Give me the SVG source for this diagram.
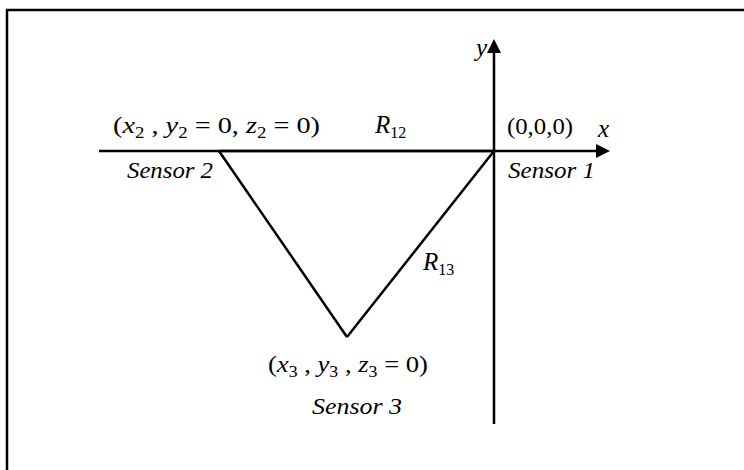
<svg xmlns="http://www.w3.org/2000/svg" width="744" height="470" viewBox="0 0 744 470">
<style>
.t{font-family:"Liberation Serif","Times New Roman",serif;font-size:24px;fill:#000}
.i{font-style:italic}
.sub{font-size:16px}
.big{font-size:25px}
.ln{stroke:#000;stroke-width:2.5;fill:none}
</style>
<defs>
<marker id="ah" viewBox="0 0 14 14" refX="1" refY="7" markerWidth="14" markerHeight="14" markerUnits="userSpaceOnUse" orient="auto">
<path d="M0,0 L14,7 L0,14 Z" fill="#000"/>
</marker>
</defs>
<rect width="744" height="470" fill="#fff"/>
<path d="M7,470 V10 H744" fill="none" stroke="#000" stroke-width="2.5"/>
<g id="connectors">
<line id="x-axis" class="ln" x1="99" y1="151" x2="597" y2="151" marker-end="url(#ah)"/>
<line id="y-axis" class="ln" x1="494" y1="424" x2="494" y2="52" marker-end="url(#ah)"/>
<line id="r12" class="ln" x1="219" y1="151" x2="494" y2="151"/>
<line id="s2s3" class="ln" x1="219" y1="151" x2="347" y2="337"/>
<line id="r13" class="ln" x1="347" y1="337" x2="494" y2="151"/>
</g>
<g id="sensor2">
<text class="t" x="113" y="133" textLength="207" lengthAdjust="spacingAndGlyphs">(<tspan class="i">x</tspan><tspan class="sub" dy="5">2</tspan><tspan dy="-5"> , </tspan><tspan class="i">y</tspan><tspan class="sub" dy="5">2</tspan><tspan dy="-5"> = 0, </tspan><tspan class="i">z</tspan><tspan class="sub" dy="5">2</tspan><tspan dy="-5"> = 0)</tspan></text>
<text class="t i" x="127" y="178" textLength="86" lengthAdjust="spacingAndGlyphs">Sensor 2</text>
</g>
<g id="sensor1">
<text class="t" x="507" y="134" textLength="66" lengthAdjust="spacingAndGlyphs">(0,0,0)</text>
<text class="t i" x="508" y="178" textLength="87" lengthAdjust="spacingAndGlyphs">Sensor 1</text>
</g>
<g id="sensor3">
<text class="t" x="268" y="372" textLength="160" lengthAdjust="spacingAndGlyphs">(<tspan class="i">x</tspan><tspan class="sub" dy="5">3</tspan><tspan dy="-5"> , </tspan><tspan class="i">y</tspan><tspan class="sub" dy="5">3</tspan><tspan dy="-5"> , </tspan><tspan class="i">z</tspan><tspan class="sub" dy="5">3</tspan><tspan dy="-5"> = 0)</tspan></text>
<text class="t i" x="312" y="414" textLength="90" lengthAdjust="spacingAndGlyphs">Sensor 3</text>
</g>
<g id="labels">
<text class="t i big" x="375" y="133">R<tspan class="sub" font-style="normal" dy="5">12</tspan></text>
<text class="t i big" x="423" y="270">R<tspan class="sub" font-style="normal" dy="5">13</tspan></text>
<text class="t i big" x="598" y="137">x</text>
<text class="t i big" x="476" y="56">y</text>
</g>
</svg>
